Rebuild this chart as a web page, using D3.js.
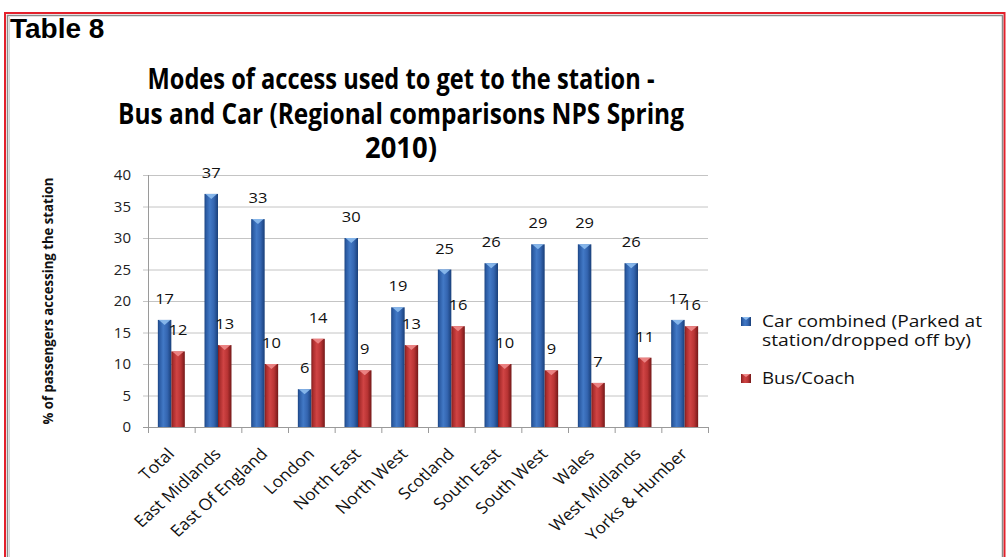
<!DOCTYPE html>
<html>
<head>
<meta charset="utf-8">
<script src="https://cdn.jsdelivr.net/npm/d3@7"></script>
<style>
  html, body { margin: 0; padding: 0; background: #ffffff; }
  svg { display: block; }
</style>
</head>
<body>
<svg id="chart" width="1006" height="557"></svg>
<script>
// ---- data ----
const categories = ["Total", "East Midlands", "East Of England", "London", "North East", "North West",
  "Scotland", "South East", "South West", "Wales", "West Midlands", "Yorks & Humber"];
const carCombined = [17, 37, 33, 6, 30, 19, 25, 26, 29, 29, 26, 17];
const busCoach = [12, 13, 10, 14, 9, 13, 16, 10, 9, 7, 11, 16];
const seriesKeys = ["car", "bus"];
const legendLines = [["Car combined (Parked at", "station/dropped off by)"], ["Bus/Coach"]];
const yTicks = [0, 5, 10, 15, 20, 25, 30, 35, 40];
const titleLines = ["Modes of access used to get to the station -",
  "Bus and Car (Regional comparisons NPS Spring", "2010)"];
const tableLabel = "Table 8";
const yAxisTitle = "% of passengers accessing the station";

// ---- layout ----
const svg = d3.select("#chart");
const plot = { left: 148, right: 708, top: 175, bottom: 427 };
const bodyFont = "'Open Sans', 'DejaVu Sans', sans-serif";
const labelStretch = 1.1;

const x0 = d3.scaleBand().domain(categories).range([plot.left, plot.right]);
const x1 = d3.scaleBand().domain(seriesKeys).range([0, x0.bandwidth()]).paddingOuter(0.73);
const y = d3.scaleLinear().domain([0, 40]).range([plot.bottom, plot.top]);

const rows = categories.map((c, i) => ({ category: c, values: [
  { key: "car", value: carCombined[i] },
  { key: "bus", value: busCoach[i] }
]}));

// ---- gradients for the bevelled bars ----
const defs = svg.append("defs");
function addGradient(id, stops) {
  const g = defs.append("linearGradient").attr("id", id)
    .attr("x1", "0%").attr("x2", "100%").attr("y1", "0%").attr("y2", "0%");
  stops.forEach(([o, c]) => g.append("stop").attr("offset", o).attr("stop-color", c));
}
addGradient("grad-car", [["0%", "#1b4380"], ["12%", "#2b5ba3"], ["40%", "#4279c6"], ["70%", "#3465b0"], ["100%", "#193f79"]]);
addGradient("grad-bus", [["0%", "#7c1b1b"], ["12%", "#a82c2c"], ["40%", "#d04444"], ["70%", "#b93434"], ["100%", "#741818"]]);
const fills = { car: "url(#grad-car)", bus: "url(#grad-bus)" };
const capFills = { car: "#8dbcee", bus: "#ee8a8a" };

// ---- frame ----
svg.append("rect").attr("x", 5).attr("y", 13).attr("width", 999.5).attr("height", 620)
  .attr("fill", "none").attr("stroke", "#e3202b").attr("stroke-width", 2);
svg.append("rect").attr("x", 7.5).attr("y", 15.5).attr("width", 995).attr("height", 620)
  .attr("fill", "none").attr("stroke", "#8a8a8a").attr("stroke-width", 1.5);
svg.append("line").attr("x1", 9.5).attr("x2", 9.5).attr("y1", 17).attr("y2", 557)
  .attr("stroke", "#d6d6d6").attr("stroke-width", 1);

// ---- heading texts ----
svg.append("text").attr("x", 10).attr("y", 38)
  .attr("font-family", "'Liberation Sans', Arial, sans-serif").attr("font-weight", "bold")
  .attr("font-size", 28).attr("fill", "#000").text(tableLabel);

const titleWidths = [507, 566, 72];
svg.append("g").selectAll("text").data(titleLines).join("text")
  .attr("x", 401).attr("y", (d, i) => 89 + i * 34.5)
  .attr("text-anchor", "middle")
  .attr("font-family", bodyFont).attr("font-weight", "bold").attr("font-size", 29)
  .attr("textLength", (d, i) => titleWidths[i]).attr("lengthAdjust", "spacingAndGlyphs")
  .attr("fill", "#000").text(d => d);

// ---- gridlines and axes ----
svg.append("g").selectAll("line").data(yTicks).join("line")
  .attr("x1", plot.left - 5).attr("x2", plot.right)
  .attr("y1", d => y(d) + 0.5).attr("y2", d => y(d) + 0.5)
  .attr("stroke", d => d === 0 ? "#9a9a9a" : "#c4c4c4").attr("stroke-width", 1);

svg.append("line").attr("x1", plot.left + 0.5).attr("x2", plot.left + 0.5)
  .attr("y1", plot.top).attr("y2", plot.bottom)
  .attr("stroke", "#9a9a9a").attr("stroke-width", 1);

const yAxis = d3.axisLeft(y).tickValues(yTicks).tickSize(0).tickPadding(17);
const yAxisG = svg.append("g").attr("transform", `translate(${plot.left},0)`).call(yAxis);
yAxisG.select(".domain").remove();
yAxisG.selectAll("text").attr("font-family", bodyFont).attr("font-size", 15).attr("fill", "#222");

// category boundary ticks along the bottom
const boundaries = categories.map(c => x0(c)).concat([x0.range()[1]]);
svg.append("g").selectAll("line").data(boundaries).join("line")
  .attr("x1", d => d + 0.5).attr("x2", d => d + 0.5)
  .attr("y1", plot.bottom).attr("y2", plot.bottom + 6)
  .attr("stroke", "#9a9a9a").attr("stroke-width", 1);

// category labels
svg.append("g").selectAll("text").data(categories).join("text")
  .attr("transform", c => `translate(${x0(c) + x0.bandwidth() / 2 + 4},455) scale(${labelStretch},1) rotate(-45)`)
  .attr("text-anchor", "end")
  .attr("font-family", bodyFont).attr("font-size", 16).attr("fill", "#111")
  .text(c => c);

// y axis title
svg.append("text")
  .attr("transform", `translate(53,${(plot.top + plot.bottom) / 2}) rotate(-90)`)
  .attr("text-anchor", "middle")
  .attr("font-family", bodyFont).attr("font-weight", "bold").attr("font-size", 15)
  .attr("textLength", 247).attr("lengthAdjust", "spacingAndGlyphs")
  .attr("fill", "#111").text(yAxisTitle);

// ---- bars ----
const groups = svg.append("g").selectAll("g").data(rows).join("g")
  .attr("transform", d => `translate(${x0(d.category)},0)`);

groups.selectAll("rect").data(d => d.values).join("rect")
  .attr("x", d => x1(d.key)).attr("width", x1.bandwidth())
  .attr("y", d => y(d.value)).attr("height", d => y(0) - y(d.value))
  .attr("fill", d => fills[d.key]);

groups.selectAll("path.cap").data(d => d.values).join("path").attr("class", "cap")
  .attr("d", d => {
    const xl = x1(d.key) + 1, xr = x1(d.key) + x1.bandwidth() - 1, t = y(d.value);
    return `M${xl},${t}L${xr},${t}L${(xl + xr) / 2},${t + 5}Z`;
  })
  .attr("fill", d => capFills[d.key]).attr("opacity", 0.9);

groups.selectAll("text").data(d => d.values).join("text")
  .attr("transform", d => `translate(${x1(d.key) + x1.bandwidth() / 2},${y(d.value) - 16}) scale(1.1,1)`)
  .attr("text-anchor", "middle")
  .attr("font-family", bodyFont).attr("font-size", 15).attr("fill", "#111")
  .text(d => d.value);

// ---- legend ----
const legendTop = [317, 374];
const legendWidths = [[220, 209], [93]];
const legend = svg.append("g").selectAll("g").data(seriesKeys).join("g")
  .attr("transform", (d, i) => `translate(741,${legendTop[i]})`);
legend.append("rect").attr("width", 10).attr("height", 9).attr("fill", d => fills[d]);
legend.append("path").attr("d", "M1,0L9,0L5,3Z").attr("fill", d => capFills[d]);
legend.each(function (d, i) {
  d3.select(this).selectAll("text").data(legendLines[i]).join("text")
    .attr("x", 21).attr("y", (t, j) => 10 + j * 19)
    .attr("font-family", bodyFont).attr("font-size", 15.5).attr("fill", "#111")
    .attr("textLength", (t, j) => legendWidths[i][j]).attr("lengthAdjust", "spacingAndGlyphs")
    .text(t => t);
});
</script>
</body>
</html>
